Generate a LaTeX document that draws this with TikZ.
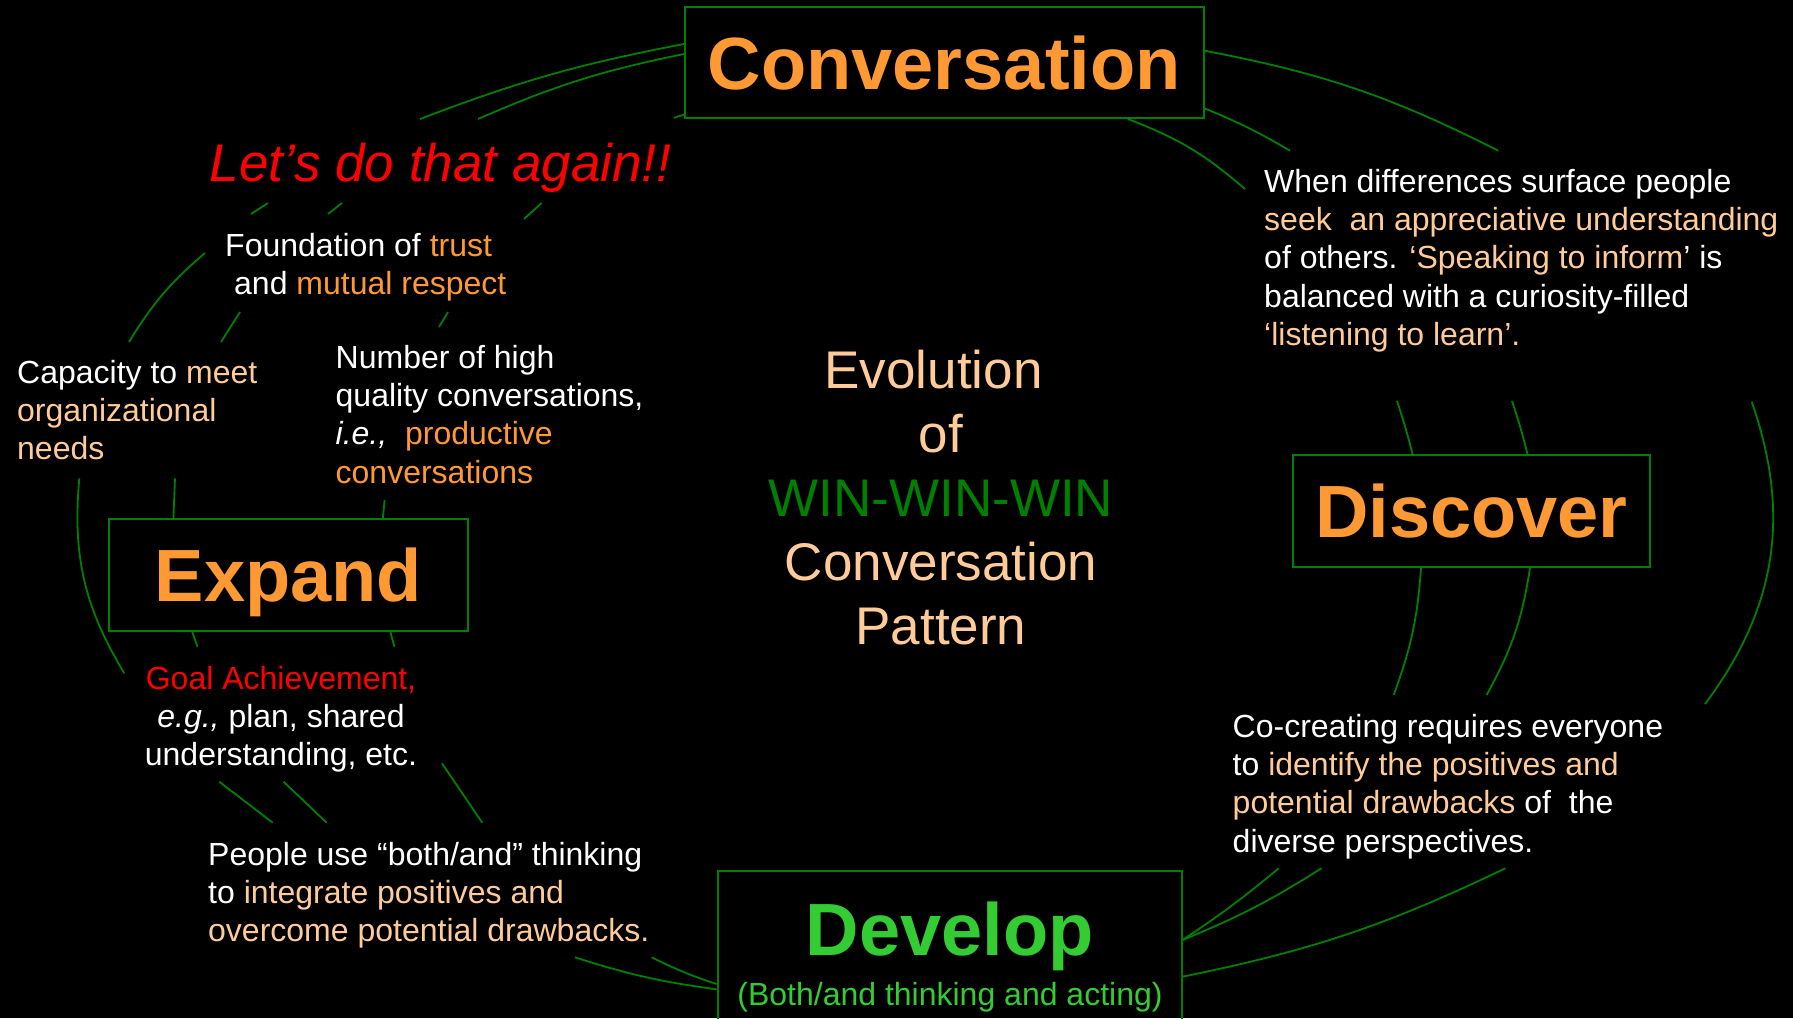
\documentclass[tikz,border=0pt]{standalone}
\usepackage{fontspec}
\setmainfont{Liberation Sans}

\definecolor{peach}{HTML}{FFCC99}
\definecolor{amber}{HTML}{FF9933}
\definecolor{linkgreen}{HTML}{008000}
\definecolor{devgreen}{HTML}{33CC33}

\begin{document}
\begin{tikzpicture}[x=1pt,y=1pt,
    stage/.style={draw=linkgreen,line width=2pt,inner sep=0pt,text=amber,
      font=\fontsize{74}{88}\selectfont\bfseries,text depth=0pt},
    blurb/.style={text=white,font=\fontsize{32}{38.4}\selectfont,
      align=left,inner sep=0pt,anchor=base west},
    link/.style={draw=linkgreen,line width=1.8pt}]

    % -- Canvas: black slide in pixel units (y runs downwards as -y) --
    \useasboundingbox (0,0) rectangle (1793,-1018);
    \fill[black] (0,0) rectangle (1793,-1018);

    % -- The four stage boxes --
    \node[stage,minimum width=518.5pt,minimum height=111pt] (conv) at (944.25,-62.5) {Conversation};
    \node[stage,minimum width=357pt,minimum height=112pt] (disc) at (1471.5,-511) {Discover};
    \node[stage,minimum width=359pt,minimum height=112pt] (expand) at (288.5,-575) {Expand};
    \node[stage,minimum width=464pt,minimum height=200pt] (dev) at (949.5,-971) {};
    \node[anchor=base,inner sep=0pt,text=devgreen,font=\fontsize{74}{88}\selectfont\bfseries] (devname) at (949.5,-955) {Develop};
    \node[anchor=base,inner sep=0pt,text=devgreen,font=\fontsize{32}{38.4}\selectfont] (devnote) at (950,-1005) {(Both/and thinking and acting)};

    % -- Centre title (base anchor = last line) --
    \node[anchor=base,inner sep=0pt,align=center,text=peach,font=\fontsize{53}{64}\selectfont] (pattern) at (941,-644)
      {Evolution\hspace*{0.28em}\\of\\\textcolor{linkgreen}{WIN-WIN-WIN}\\Conversation\\Pattern};

    % -- Text round the cycle (base anchor = last line) --
    \node[blurb,text=red,font=\fontsize{53}{64}\selectfont\itshape] (again) at (209.5,-181) {Let’s do that again!!};
    \node[blurb] (trust) at (225,-294.4)
      {Foundation of \textcolor{amber}{trust}\\\hspace*{9pt}and \textcolor{amber}{mutual respect}};
    \node[blurb] (capacity) at (17,-459.8)
      {Capacity to \textcolor{peach}{meet}\\\textcolor{peach}{organizational}\\\textcolor{peach}{needs}};
    \node[blurb] (quality) at (335.5,-483.2)
      {Number of high\\quality conversations,\\\textit{i.e.,}~ \textcolor{amber}{productive}\\\textcolor{amber}{conversations}};
    \node[blurb] (surface) at (1264,-345.6)
      {When differences surface people\\\textcolor{peach}{seek~ an appreciative understanding}\\of others. \textcolor{peach}{‘Speaking to inform}’ is\\balanced with a curiosity-filled\\\textcolor{peach}{‘listening to learn’.}};
    \node[blurb] (cocreate) at (1232.5,-852.2)
      {Co-creating requires everyone\\to \textcolor{peach}{identify the positives and}\\\textcolor{peach}{potential drawbacks} of~ the\\diverse perspectives.};
    \node[blurb,anchor=base,align=center] (goal) at (281,-765.8)
      {\textcolor{red}{Goal Achievement,}\\\textit{e.g.,} plan, shared\\understanding, etc.};
    \node[blurb] (bothand) at (208,-941.8)
      {People use “both/and” thinking\\to \textcolor{peach}{integrate positives and}\\\textcolor{peach}{overcome potential drawbacks.}};

    % -- Free ends of the cycle lines (where the text cuts them) --
    \coordinate (cl1) at (420,-119);    \coordinate (cl2) at (478,-119);    \coordinate (cl3) at (674,-118);
    \coordinate (ag1a) at (251,-214);   \coordinate (ag1b) at (268,-203);
    \coordinate (ag2a) at (328,-214);   \coordinate (ag2b) at (342,-203);
    \coordinate (ag3a) at (524,-219);   \coordinate (ag3b) at (541.7,-203);
    \coordinate (fd1a) at (129,-342);   \coordinate (fd1b) at (205,-253);
    \coordinate (fd2a) at (221,-342);   \coordinate (fd2b) at (240,-312);
    \coordinate (fd3a) at (439,-327);   \coordinate (fd3b) at (448,-312);
    \coordinate (cp1a) at (124.3,-673.3); \coordinate (cp1b) at (79.3,-478.3);
    \coordinate (cp2) at (175,-478.3);  \coordinate (cp3) at (384.6,-500);
    \coordinate (ex1) at (197.5,-646.7); \coordinate (ex2) at (394.4,-646.7);
    \coordinate (gl1a) at (219.3,-781.7); \coordinate (gl1b) at (272.7,-822.7);
    \coordinate (gl2a) at (283.6,-781.7); \coordinate (gl2b) at (326.6,-822.7);
    \coordinate (gl3a) at (442,-763.3);   \coordinate (gl3b) at (482.2,-822.7);
    \coordinate (ba1) at (574.9,-957.3);  \coordinate (ba2) at (651.7,-957.3);
    \coordinate (cr1) at (1498.3,-150.7); \coordinate (cr2) at (1290,-150.7); \coordinate (cr3) at (1245,-189);
    \coordinate (dt1) at (1397,-401);   \coordinate (dt2) at (1512,-401);
    \coordinate (dt3a) at (1751.7,-401.7); \coordinate (dt3b) at (1705,-704);
    \coordinate (db1) at (1393.7,-695); \coordinate (db2) at (1486.6,-695);
    \coordinate (cc1) at (1278.7,-868.3); \coordinate (cc2) at (1321.4,-868.3); \coordinate (cc3) at (1505.4,-868.3);

    % -- Expand back to Conversation (left side) --
    \draw[link] (cl1) to[bend left=5] ([yshift=18.5pt]conv.west);
    \draw[link] (cl2) to[bend left=6] ([yshift=8.5pt]conv.west);
    \draw[link] (cl3) -- ([yshift=4.5pt]conv.south west);
    \draw[link] (fd1a) to[bend left=9] (fd1b);
    \draw[link] (cp1a) to[bend left=18] (cp1b);
    \draw[link] ([xshift=-115.1pt]expand.north) -- (cp2);
    \draw[link] ([xshift=94.4pt]expand.north) -- (cp3);
    \foreach \a/\b in {ag1a/ag1b,ag2a/ag2b,ag3a/ag3b,fd2a/fd2b,fd3a/fd3b,gl1a/gl1b,gl2a/gl2b,gl3a/gl3b}
      \draw[link] (\a) -- (\b);

    % -- Develop back to Expand (bottom left) --
    \draw[link] ([xshift=-96.2pt]expand.south) -- (ex1);
    \draw[link] ([xshift=101.9pt]expand.south) -- (ex2);
    \draw[link] ([yshift=-18.3pt]dev.west) to[bend left=5] (ba1);
    \draw[link] ([yshift=-13pt]dev.west) to[bend left=4] (ba2);

    % -- Conversation on to Discover (right side) --
    \draw[link] ([yshift=11.8pt]conv.east) to[bend left=8] (cr1);
    \draw[link] ([yshift=-45.8pt]conv.east) to[bend left=4] (cr2);
    \draw[link] ([xshift=183.5pt]conv.south) to[bend left=10] (cr3);
    \draw[link] (dt1) to[bend left=2] ([xshift=-59pt]disc.north);
    \draw[link] (dt2) to[bend left=2] ([xshift=56pt]disc.north);
    \draw[link] (dt3a) to[bend left=28] (dt3b);

    % -- Discover on to Develop (bottom right) --
    \draw[link] ([xshift=-50.5pt]disc.south) to[bend left=8] (db1);
    \draw[link] ([xshift=58.5pt]disc.south) to[bend left=10] (db2);
    \draw[link] (cc1) to[bend left=3] ([yshift=31pt]dev.east);
    \draw[link] (cc2) to[bend left=5] ([yshift=31pt]dev.east);
    \draw[link] (cc3) to[bend left=7] ([yshift=-5.7pt]dev.east);

\end{tikzpicture}
\end{document}
